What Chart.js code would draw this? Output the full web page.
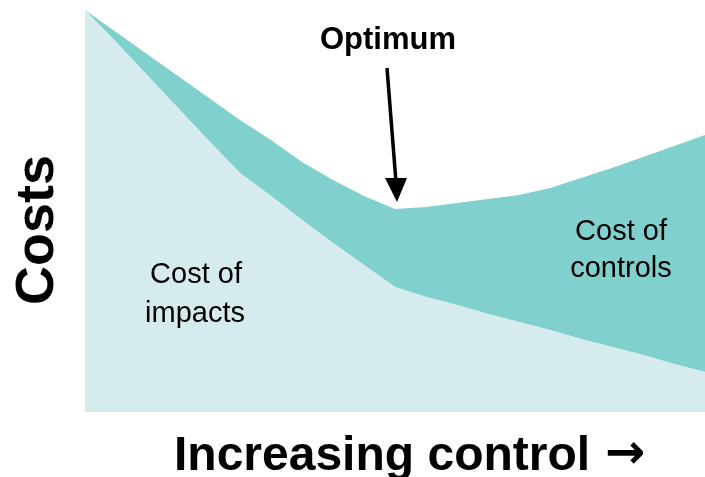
<!DOCTYPE html>
<html>
<head>
<meta charset="utf-8">
<script src="https://cdn.jsdelivr.net/npm/chart.js@4/dist/chart.umd.min.js"></script>
<style>
  html, body { margin: 0; padding: 0; background: #fff; }
  #wrap { width: 705px; height: 477px; }
</style>
</head>
<body>
<div id="wrap"><canvas id="myChart"></canvas></div>
<script>
// level of control (arbitrary steps, left = none)
const controlLevel = [0,1,2,3,4,5,6,7,8,9,10,11,12,13,14,15,16,17,18,19,20];
// cost of impacts (bottom layer)
const impactCost = [402,370,337,304,271,239,216,192,169,147,125,115,107,98,90,82,73,65,57,48,40];
// cost of controls (stacked on top)
const controlCost = [0,10,21,32,43,53,56,58,63,69,78,90,102,115,127,142,161,179,198,218,237];
const optimumIndex = 10;

const lightColor = "#d5ebed";
const darkColor = "#80d1cd";

const labelsPlugin = {
    id: "labels",
    afterDatasetsDraw(chart) {
        const ctx = chart.ctx;
        const xs = chart.scales.x;
        const ys = chart.scales.y;
        ctx.save();
        ctx.fillStyle = "#000";
        ctx.textAlign = "center";
        ctx.textBaseline = "alphabetic";

        // area labels
        ctx.font = "29px 'Liberation Sans', Arial, sans-serif";
        ctx.fillText("Cost of", 196, 283);
        ctx.fillText("impacts", 195, 322);
        ctx.fillText("Cost of", 621, 240);
        ctx.fillText("controls", 621, 277);

        // optimum arrow, tip placed on the stacked total
        const tipX = xs.getPixelForValue(optimumIndex) + 2;
        const tipY = ys.getPixelForValue(impactCost[optimumIndex] + controlCost[optimumIndex]) - 7;
        ctx.font = "bold 31px 'Liberation Sans', Arial, sans-serif";
        ctx.fillText("Optimum", 388, 49);
        ctx.strokeStyle = "#000";
        ctx.lineWidth = 3.5;
        ctx.beginPath();
        ctx.moveTo(tipX - 10, 68);
        ctx.lineTo(tipX - 1, tipY - 20);
        ctx.stroke();
        ctx.beginPath();
        ctx.moveTo(tipX - 12, tipY - 24);
        ctx.lineTo(tipX + 10, tipY - 24);
        ctx.lineTo(tipX, tipY);
        ctx.closePath();
        ctx.fill();

        // axis titles
        ctx.textAlign = "left";
        ctx.font = "bold 48px 'Liberation Sans', Arial, sans-serif";
        ctx.fillText("Increasing control", 174, 470);
        ctx.font = "bold 48px 'DejaVu Sans', sans-serif";
        ctx.fillText("\u2192", 605, 468);
        ctx.textAlign = "center";
        ctx.translate(53, 230);
        ctx.rotate(-Math.PI / 2);
        ctx.font = "bold 54px 'Liberation Sans', Arial, sans-serif";
        ctx.fillText("Costs", 0, 0);
        ctx.restore();
    }
};

new Chart("myChart", {
    type: "line",
    data: {
        labels: controlLevel,
        datasets: [{
            label: "Cost of impacts",
            data: impactCost,
            backgroundColor: lightColor,
            borderWidth: 0,
            pointRadius: 0,
            fill: "origin"
        }, {
            label: "Cost of controls",
            data: controlCost,
            backgroundColor: darkColor,
            borderWidth: 0,
            pointRadius: 0,
            fill: "-1"
        }]
    },
    options: {
        responsive: true,
        maintainAspectRatio: false,
        animation: false,
        layout: { padding: { left: 85, right: 0, top: 10, bottom: 65 } },
        plugins: {
            legend: { display: false },
            tooltip: { enabled: false }
        },
        scales: {
            x: { display: false },
            y: { display: false, stacked: true, min: 0, max: 402 }
        }
    },
    plugins: [labelsPlugin]
});
</script>
</body>
</html>
